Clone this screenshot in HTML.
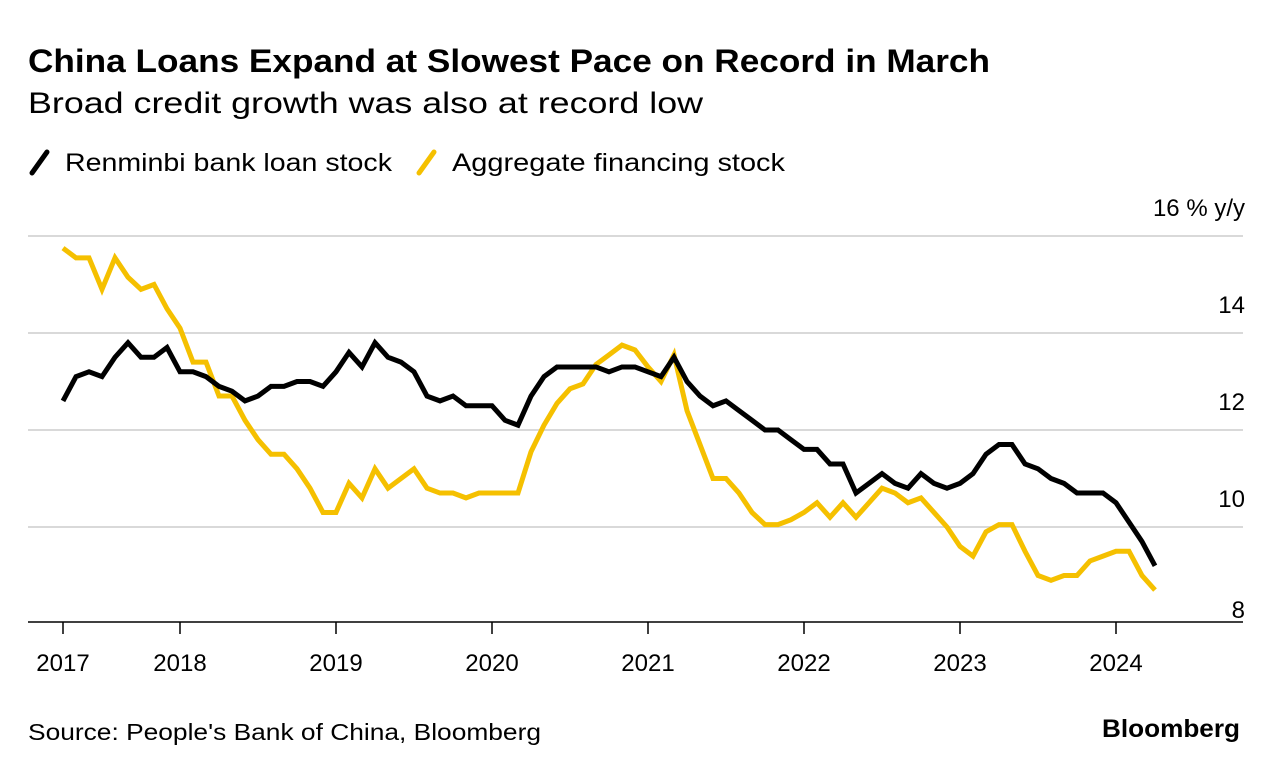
<!DOCTYPE html>
<html><head><meta charset="utf-8"><style>
body{margin:0;background:#fff;font-family:"Liberation Sans",sans-serif;}
svg text{font-family:"Liberation Sans",sans-serif;}
</style></head><body>
<svg width="1279" height="772" xmlns="http://www.w3.org/2000/svg">
<text x="28" y="72" font-size="32" font-weight="bold" fill="#000" textLength="962" lengthAdjust="spacingAndGlyphs">China Loans Expand at Slowest Pace on Record in March</text>
<text x="28" y="113" font-size="30" fill="#000" textLength="675" lengthAdjust="spacingAndGlyphs">Broad credit growth was also at record low</text>
<g>
<line x1="32" y1="173" x2="47" y2="152" stroke="#000" stroke-width="5" stroke-linecap="round"/>
<text x="65" y="171" font-size="25" textLength="327" lengthAdjust="spacingAndGlyphs">Renminbi bank loan stock</text>
<line x1="419" y1="173" x2="434" y2="152" stroke="#f5c000" stroke-width="5" stroke-linecap="round"/>
<text x="452" y="171" font-size="25" textLength="333" lengthAdjust="spacingAndGlyphs">Aggregate financing stock</text>
</g>
<g id="grid"></g><g id="series"></g><g id="axes"></g>
<text x="28" y="740" font-size="23" textLength="513" lengthAdjust="spacingAndGlyphs">Source: People's Bank of China, Bloomberg</text>
<text x="1240" y="737" font-size="25" font-weight="bold" text-anchor="end" textLength="138" lengthAdjust="spacingAndGlyphs">Bloomberg</text>
</svg>
<script>
const loans=[12.6,13.1,13.2,13.1,13.5,13.8,13.5,13.5,13.7,13.2,13.2,13.1,12.9,12.8,12.6,12.7,12.9,12.9,13.0,13.0,12.9,13.2,13.6,13.3,13.8,13.5,13.4,13.2,12.7,12.6,12.7,12.5,12.5,12.5,12.2,12.1,12.7,13.1,13.3,13.3,13.3,13.3,13.2,13.3,13.3,13.2,13.1,13.5,13.0,12.7,12.5,12.6,12.4,12.2,12.0,12.0,11.8,11.6,11.6,11.3,11.3,10.7,10.9,11.1,10.9,10.8,11.1,10.9,10.8,10.9,11.1,11.5,11.7,11.7,11.3,11.2,11.0,10.9,10.7,10.7,10.7,10.5,10.1,9.7,9.2];
const financing=[15.75,15.55,15.55,14.9,15.55,15.15,14.9,15.0,14.5,14.1,13.4,13.4,12.7,12.7,12.2,11.8,11.5,11.5,11.2,10.8,10.3,10.3,10.9,10.6,11.2,10.8,11.0,11.2,10.8,10.7,10.7,10.6,10.7,10.7,10.7,10.7,11.55,12.1,12.55,12.85,12.95,13.35,13.55,13.75,13.65,13.3,13.0,13.55,12.4,11.7,11.0,11.0,10.7,10.3,10.05,10.05,10.15,10.3,10.5,10.2,10.5,10.2,10.5,10.8,10.7,10.5,10.6,10.3,10.0,9.6,9.4,9.9,10.05,10.05,9.5,9.0,8.9,9.0,9.0,9.3,9.4,9.5,9.5,9.0,8.7];
const yTicks=[8,10,12,14,16];
const yearLabels=["2017","2018","2019","2020","2021","2022","2023","2024"];
const yearMonthIdx=[0,9,21,33,45,57,69,81];
const NS="http://www.w3.org/2000/svg";
const xs=i=>63+i*13;
const ys=v=>624-(v-8)*48.5;
function mk(t,a,p){const e=document.createElementNS(NS,t);for(const k in a)e.setAttribute(k,a[k]);p.appendChild(e);return e;}
const grid=document.getElementById('grid'),series=document.getElementById('series'),axes=document.getElementById('axes');
yTicks.forEach(v=>{
  if(v>8){const l=mk('line',{x1:28,x2:1243,y1:ys(v),y2:ys(v),stroke:'#d9d9d9','stroke-width':2},grid);
  
  }
  const t=mk('text',{x:1245,y:ys(v)+(v==8?-6:-20),'font-size':24,'text-anchor':'end'},axes);
  t.textContent=v==16?'16 % y/y':String(v);
  
  
});
const base=mk('line',{x1:28,x2:1243,y1:622,y2:622,stroke:'#000','stroke-width':1.5},axes);


yearLabels.forEach((lab,k)=>{
  const x=xs(yearMonthIdx[k]);
  const tk=mk('line',{x1:x,x2:x,y1:622,y2:634,stroke:'#000','stroke-width':1.5},axes);
  
  
  const t=mk('text',{x:x,y:671,'font-size':24,'text-anchor':'middle'},axes);
  t.textContent=lab;
  
  
});
function line(d,c,n){
  const p=mk('polyline',{points:d.map((v,i)=>xs(i)+','+ys(v)).join(' '),fill:'none',stroke:c,'stroke-width':5,'stroke-linejoin':'miter'},series);
  
  
}
line(financing,'#f5c000','financing-line');
line(loans,'#000','loans-line');
</script>
</body></html>
